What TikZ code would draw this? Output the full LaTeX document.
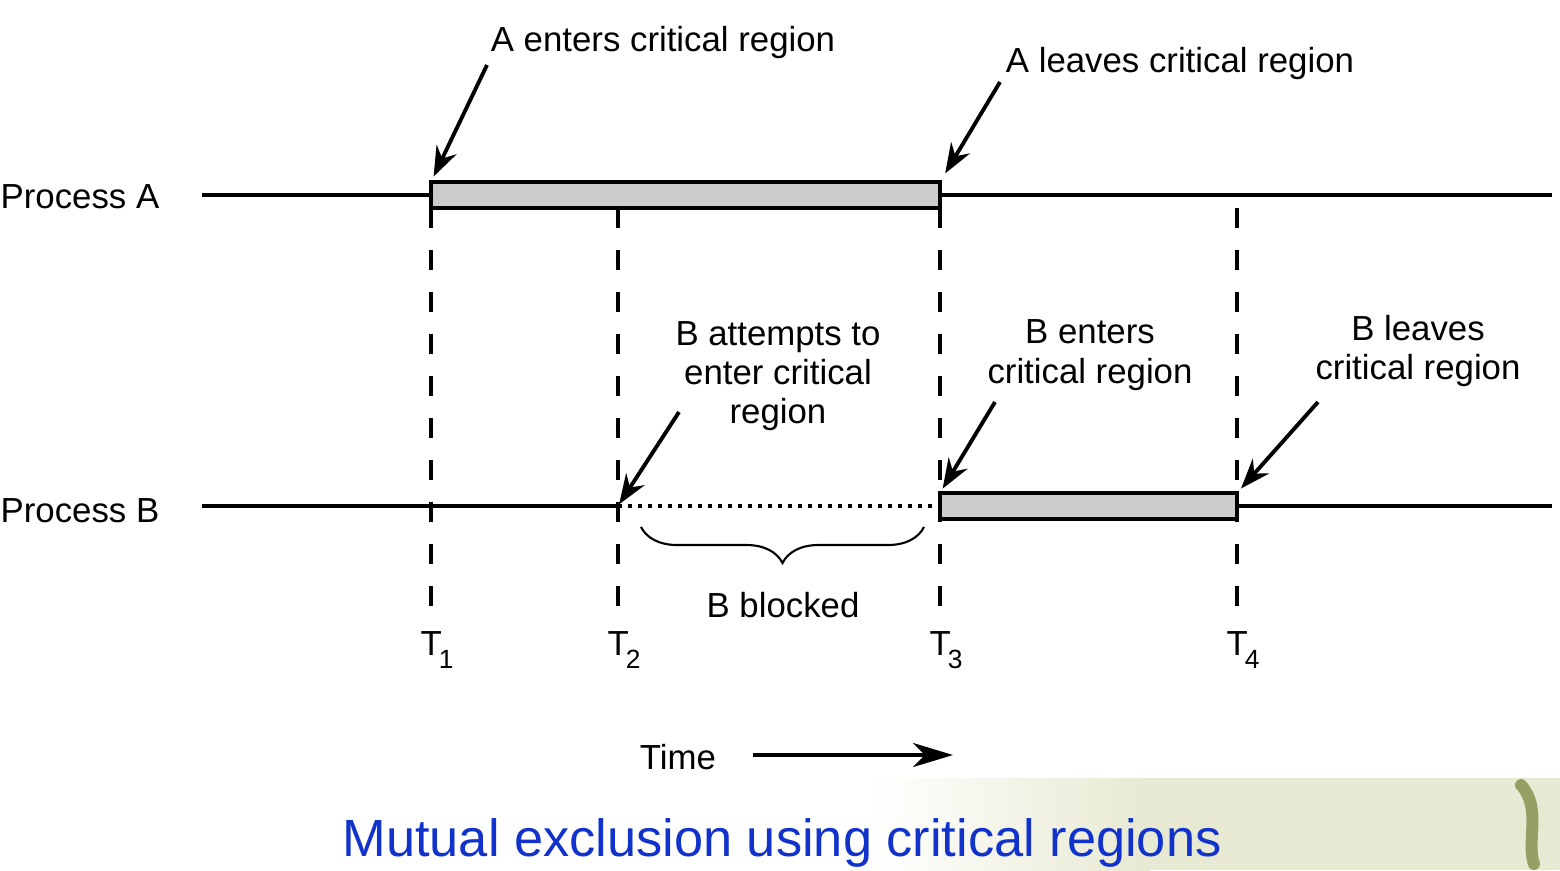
\documentclass[tikz,border=0pt]{standalone}
\usepackage{fontspec}
\setmainfont{Liberation Sans}
\usetikzlibrary{arrows.meta,positioning,decorations.pathreplacing}
\definecolor{szurke}{RGB}{204,204,204}
\definecolor{cimkek}{RGB}{17,51,204}
\definecolor{hatter}{RGB}{232,233,210}
\definecolor{inda}{RGB}{150,160,100}
\newcommand{\abra}{\fontsize{9.9}{11.2}\selectfont}
\newcommand{\idopont}[1]{T\kern-0.3mm\raisebox{-1.3mm}{\fontsize{7.5}{8}\selectfont #1}}
\tikzset{
  vonal/.style={line width=0.9pt},
  dob/.style={draw,line width=1.2pt,fill=szurke,inner sep=0pt,outer sep=0pt,minimum height=2.6mm},
  szagg/.style={line width=0.9pt,dash pattern=on 2mm off 2.2mm},
  pontozott/.style={line width=0.9pt,dash pattern=on 0.35mm off 0.65mm},
  nyil/.style={line width=1.1pt,-{Stealth[length=3mm,width=2.2mm,inset=1mm]}},
  idonyil/.style={line width=1.2pt,-{Stealth[length=4mm,width=2.4mm,inset=1.2mm]}},
  felirat/.style={align=center,font=\abra,inner sep=0pt},
}

\begin{document}
\begin{tikzpicture}[x=0.1mm,y=-0.1mm]
  \useasboundingbox (0,0) rectangle (1560,870);
  % hatter
  \shade[left color=white,middle color=hatter,right color=white] (20,0) rectangle (475,12);
  \shade[left color=white,right color=hatter] (870,778) rectangle (1150,870);
  \fill[hatter] (1150,778) rectangle (1560,870);
  \draw[inda,line width=1.2mm,line cap=round] (1521,785) .. controls (1542,808) and (1526,842) .. (1534,864);
  % folyamatok
  \node[felirat,anchor=base west] (procA) at (0,208) {Process A};
  \node[felirat,anchor=base west] (procB) at (0,522) {Process B};
  \coordinate (aKezd) at (202,195); \coordinate (aVeg) at (1552,195);
  \coordinate (bKezd) at (202,506); \coordinate (bVar) at (618,506);
  \coordinate (bVeg) at (1552,506);
  \node[dob,minimum width=50.9mm] (kritA) at (685.5,195) {};
  \node[dob,minimum width=29.7mm] (kritB) at (1088.5,506) {};
  \draw[vonal] (aKezd) -- (kritA.west); \draw[vonal] (kritA.east) -- (aVeg);
  \draw[vonal] (bKezd) -- (bVar); \draw[pontozott] (bVar) -- (kritB.west);
  \draw[vonal] (kritB.east) -- (bVeg);
  % idopontok
  \node[felirat,anchor=base west] (t1) at (420,655) {\idopont{1}};
  \node[felirat,anchor=base west] (t2) at (607,655) {\idopont{2}};
  \node[felirat,anchor=base west] (t3) at (929,655) {\idopont{3}};
  \node[felirat,anchor=base west] (t4) at (1226,655) {\idopont{4}};
  \draw[szagg,shorten >=1.7mm] (kritA.south west) -- (kritA.south west |- t1.north);
  \draw[szagg,shorten >=1.7mm] (bVar |- kritA.south) -- (bVar |- t2.north);
  \draw[szagg,shorten >=1.7mm] (kritA.south east) -- (kritA.south east |- t3.north);
  \draw[szagg,shorten >=1.7mm] (kritB.east |- kritA.south) -- (kritB.east |- t4.north);
  % feliratok
  \node[felirat,anchor=base] (aBe) at (663,51) {A enters critical region};
  \node[felirat,anchor=base] (aKi) at (1180,72) {A leaves critical region};
  \node[felirat] (bProb) at (778,376) {B attempts to\\enter critical\\region};
  \node[felirat] (bBe) at (1090,355) {B enters\\critical region};
  \node[felirat] (bKi) at (1418,351) {B leaves\\critical region};
  \coordinate (aBeK) at (487,65); \coordinate (aKiK) at (1000,82);
  \coordinate (bProbK) at (679,412); \coordinate (bBeK) at (995,402);
  \coordinate (bKiK) at (1318,402);
  \draw[nyil,shorten >=0.6mm] (aBeK) -- (kritA.north west);
  \draw[nyil,shorten >=1mm] (aKiK) -- (kritA.north east);
  \draw[nyil,shorten >=0.2mm] (bProbK) -- (bVar);
  \draw[nyil,shorten >=0.5mm] (bBeK) -- (kritB.north west);
  \draw[nyil,shorten >=0.6mm] (bKiK) -- (kritB.north east);
  % blokkolva
  \coordinate (blBal) at (641,527); \coordinate (blJobb) at (924,527);
  \draw[line width=0.6pt,decorate,decoration={brace,mirror,amplitude=3.6mm}] (blBal) -- (blJobb);
  \node[felirat] (bBlk) at (783,605) {B blocked};
  % ido
  \node[felirat] (ido) at (678,757) {Time};
  \coordinate (idoVeg) at (953,755);
  \draw[idonyil,shorten <=3.6mm] (ido.east |- idoVeg) -- (idoVeg);
  \node[font=\fontsize{14.9}{16}\selectfont,text=cimkek] (cim) at (782,843) {Mutual exclusion using critical regions};
\end{tikzpicture}
\end{document}
